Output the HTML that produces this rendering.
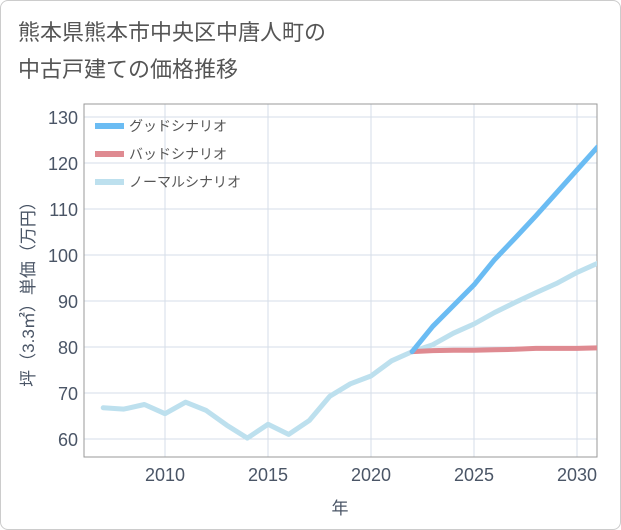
<!DOCTYPE html>
<html><head><meta charset="utf-8"><style>
body{margin:0;background:#fff;font-family:"Liberation Sans","Noto Sans CJK JP",sans-serif}
#wrap{position:relative;width:619px;height:528px;border:1px solid #ccc;border-radius:8px;background:#fff}
</style></head><body>
<div id="wrap">
<svg id="chart" width="621" height="530" style="position:absolute;left:-1px;top:-1px">
<text x="18" y="40" font-size="22" fill="#555">熊本県熊本市中央区中唐人町の</text>
<text x="18" y="77" font-size="22" fill="#555">中古戸建ての価格推移</text>
<g id="grid"></g><g id="series"></g><g id="legend"></g>
</svg></div>
<script>
const years=[2007,2008,2009,2010,2011,2012,2013,2014,2015,2016,2017,2018,2019,2020,2021,2022,2023,2024,2025,2026,2027,2028,2029,2030,2031];
const normal=[66.8,66.5,67.5,65.5,68,66.2,63,60.2,63.2,61,64,69.3,72,73.7,77,79,80.5,83,85,87.5,89.7,91.8,93.8,96.2,98.2];
const goodYears=[2022,2023,2024,2025,2026,2027,2028,2029,2030,2031];
const good=[79,84.5,89,93.5,99,103.7,108.5,113.5,118.5,123.5];
const bad=[79,79.2,79.3,79.3,79.4,79.5,79.7,79.7,79.7,79.8];
const yTicks=[60,70,80,90,100,110,120,130];
const xTicks=[2010,2015,2020,2025,2030];
const NS="http://www.w3.org/2000/svg";
const L=84,R=597,T=104,B=457;
const x=v=>165+(v-2010)*20.6;
const y=v=>439-(v-60)*4.6;
function mk(t,a,p){const e=document.createElementNS(NS,t);for(const k in a)e.setAttribute(k,a[k]);p.appendChild(e);return e;}
const g=document.getElementById('grid');
yTicks.forEach(v=>{const l=mk('line',{x1:L,x2:R,y1:y(v),y2:y(v),stroke:'#d5dee8'},g);


const t=mk('text',{x:L-6,y:y(v)+7,'text-anchor':'end','font-size':18,fill:'#4a5566'},g);t.textContent=v;

});
xTicks.forEach(v=>{const l=mk('line',{x1:x(v),x2:x(v),y1:T,y2:B,stroke:'#d5dee8'},g);


const t=mk('text',{x:x(v),y:B+24,'text-anchor':'middle','font-size':18,fill:'#4a5566'},g);t.textContent=v;

});
const fr=mk('rect',{x:L,y:T,width:R-L,height:B-T,fill:'none',stroke:'#999'},g);


const xt=mk('text',{x:340,y:514,'text-anchor':'middle','font-size':17,fill:'#4a5566'},g);xt.textContent='年';


const yt=mk('text',{x:0,y:0,transform:'translate(34,290) rotate(-90)','text-anchor':'middle','font-size':17,fill:'#4a5566'},g);yt.textContent='坪（3.3㎡）単価（万円）';


const s=document.getElementById('series');
function line(xs,vs,c,n){const p=mk('polyline',{points:xs.map((yr,i)=>x(yr)+','+y(vs[i])).join(' '),fill:'none',stroke:c,'stroke-width':5,'stroke-linejoin':'round','stroke-linecap':'round'},s);

}
const cp='<clipPath id="c"><rect x="84" y="104" width="513" height="353"/></clipPath>';
s.setAttribute('clip-path','url(#c)');
mk('defs',{},document.getElementById('chart')).innerHTML=cp;
line(years,normal,'#bde0ee','normal-scenario-line');
line(goodYears,bad,'#df8a91','bad-scenario-line');
line(goodYears,good,'#6bbcf3','good-scenario-line');
const lg=document.getElementById('legend');
[['グッドシナリオ','#6bbcf3'],['バッドシナリオ','#df8a91'],['ノーマルシナリオ','#bde0ee']].forEach((d,i)=>{
const yy=126+i*28;
const r=mk('rect',{x:95,y:yy-3,width:29,height:6,fill:d[1]},lg);


const t=mk('text',{x:129,y:yy+5,'font-size':14,fill:'#555'},lg);t.textContent=d[0];

});
</script></body></html>
